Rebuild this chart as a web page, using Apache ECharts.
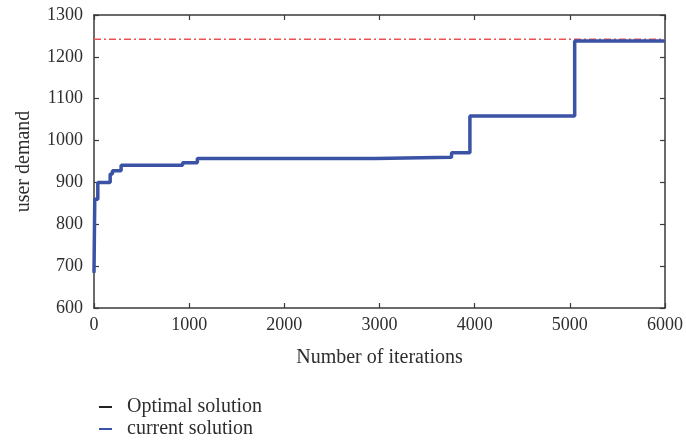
<!DOCTYPE html>
<html>
<head>
<meta charset="utf-8">
<script src="https://cdn.jsdelivr.net/npm/echarts@6/dist/echarts.min.js"></script>
<style>
  html, body { margin: 0; padding: 0; background: #fff; }
  #chart { width: 686px; height: 440px; }
</style>
</head>
<body>
<div id="chart"></div>
<script>
// Step change points (iteration where each level starts)
var iterations     = [0,   8,   40,  170, 194, 285, 931, 1086, 2953, 3757, 3950, 5051, 6000];
var currentValues  = [684, 860, 900, 920, 928, 941, 947, 957,  960,  971,  1059, 1238, 1238];
var optimalValues  = [684, 860, 900, 920, 928, 941, 947, 957,  960,  971,  1059, 1238, 1238];
var targetIters    = [0, 6000];
var targetValues   = [1242, 1242];
var xTicks = [0, 1000, 2000, 3000, 4000, 5000, 6000];
var yTicks = [600, 700, 800, 900, 1000, 1100, 1200, 1300];

function pairs(xs, ys) { return xs.map(function (x, i) { return [x, ys[i]]; }); }

var FONT = "'Liberation Serif', 'DejaVu Serif', serif";
var TXT = '#2e2e2e';
var AX = '#3a3a3a';
var BLUE = '#3a53a4';

var chart = echarts.init(document.getElementById('chart'), null, { renderer: 'canvas' });
var baseX = {
  type: 'value', min: xTicks[0], max: xTicks[xTicks.length - 1], interval: 1000,
  splitLine: { show: false },
  axisLine: { show: true, onZero: false, lineStyle: { color: AX, width: 1.5 } },
  axisTick: { show: true, inside: true, length: 5, lineStyle: { color: AX, width: 1.2 } }
};
var baseY = {
  type: 'value', min: yTicks[0], max: yTicks[yTicks.length - 1], interval: 100,
  splitLine: { show: false },
  axisLine: { show: true, onZero: false, lineStyle: { color: AX, width: 1.5 } },
  axisTick: { show: true, inside: true, length: 5, lineStyle: { color: AX, width: 1.2 } }
};
var legendBase = {
  orient: 'vertical', left: 94, itemWidth: 13, itemHeight: 2, icon: 'rect',
  textStyle: { fontFamily: FONT, fontSize: 20, color: TXT, padding: [0, 0, 0, 10] }
};

chart.setOption({
  animation: false,
  backgroundColor: '#fff',
  grid: { left: 94, right: 21, top: 15, bottom: 132 },
  legend: [
    Object.assign({}, legendBase, { top: 392, data: [{ name: 'Optimal solution', itemStyle: { color: '#222' } }] }),
    Object.assign({}, legendBase, { top: 414, data: [{ name: 'current solution', itemStyle: { color: BLUE } }] })
  ],
  xAxis: [
    Object.assign({}, baseX, {
      position: 'bottom',
      name: 'Number of iterations', nameLocation: 'middle', nameGap: 40,
      nameTextStyle: { fontFamily: FONT, fontSize: 20, color: TXT },
      axisLabel: { fontFamily: FONT, fontSize: 18, color: TXT, margin: 8, formatter: function (v) { return String(v); } }
    }),
    Object.assign({}, baseX, { position: 'top', axisLabel: { show: false } })
  ],
  yAxis: [
    Object.assign({}, baseY, {
      position: 'left',
      name: 'user demand', nameLocation: 'middle', nameGap: 60,
      nameTextStyle: { fontFamily: FONT, fontSize: 20, color: TXT },
      axisLabel: { fontFamily: FONT, fontSize: 18, color: TXT, margin: 11, formatter: function (v) { return String(v); } }
    }),
    Object.assign({}, baseY, { position: 'right', axisLabel: { show: false } })
  ],
  series: [
    {
      name: 'target', type: 'line', xAxisIndex: 0, yAxisIndex: 0,
      data: pairs(targetIters, targetValues), showSymbol: false, silent: true,
      lineStyle: { color: '#ef5050', width: 1.6, type: [7, 3, 2, 3] }, z: 2
    },
    {
      name: 'Optimal solution', type: 'line', step: 'end',
      data: pairs(iterations, optimalValues), showSymbol: false,
      lineStyle: { color: '#222', width: 1 }, itemStyle: { color: '#222' }, z: 3
    },
    {
      name: 'current solution', type: 'line', step: 'end',
      data: pairs(iterations, currentValues), showSymbol: false,
      lineStyle: { color: BLUE, width: 3.5 }, itemStyle: { color: BLUE }, z: 4
    }
  ]
});
</script>
</body>
</html>
